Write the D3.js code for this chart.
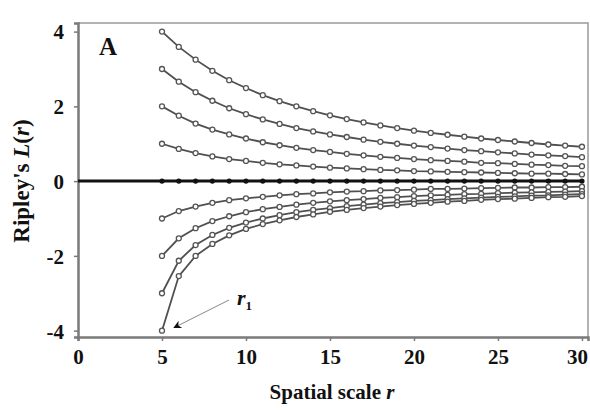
<!DOCTYPE html>
<html>
<head>
<meta charset="utf-8">
<script src="https://cdn.jsdelivr.net/npm/d3@7/dist/d3.min.js"></script>
<style>
  html, body { margin: 0; padding: 0; background: #fff; }
  svg { display: block; font-family: "Liberation Serif", "Times New Roman", serif; }
</style>
</head>
<body>
<svg id="chart" width="590" height="412"></svg>
<script>
// Spatial scale r (x values shared by every curve)
const scales = [5, 6, 7, 8, 9, 10, 11, 12, 13, 14, 15, 16, 17, 18, 19, 20,
                21, 22, 23, 24, 25, 26, 27, 28, 29, 30];

// Ripley's L(r), one array per curve (aggregated -> regular -> complete spatial randomness)
const curveP4 = [4.00, 3.59, 3.25, 2.95, 2.70, 2.49, 2.30, 2.14, 2.00, 1.87, 1.76, 1.66, 1.57,
                 1.49, 1.42, 1.35, 1.29, 1.24, 1.19, 1.14, 1.10, 1.06, 1.02, 0.98, 0.95, 0.92];
const curveP3 = [3.00, 2.66, 2.38, 2.15, 1.95, 1.79, 1.65, 1.53, 1.42, 1.33, 1.25, 1.18, 1.11,
                 1.05, 1.00, 0.95, 0.91, 0.87, 0.83, 0.80, 0.77, 0.74, 0.71, 0.69, 0.67, 0.64];
const curveP2 = [2.00, 1.75, 1.54, 1.38, 1.25, 1.14, 1.04, 0.96, 0.89, 0.83, 0.78, 0.73, 0.69,
                 0.65, 0.62, 0.59, 0.56, 0.54, 0.52, 0.49, 0.48, 0.46, 0.44, 0.43, 0.41, 0.40];
const curveP1 = [1.00, 0.86, 0.75, 0.66, 0.59, 0.54, 0.49, 0.45, 0.42, 0.39, 0.36, 0.34, 0.32,
                 0.30, 0.29, 0.27, 0.26, 0.25, 0.24, 0.23, 0.22, 0.21, 0.20, 0.20, 0.19, 0.18];
const curveM1 = [-1.00, -0.80, -0.68, -0.58, -0.51, -0.46, -0.42, -0.38, -0.35, -0.33, -0.30, -0.28, -0.27,
                 -0.25, -0.24, -0.23, -0.21, -0.21, -0.20, -0.19, -0.18, -0.17, -0.17, -0.16, -0.16, -0.15];
const curveM2 = [-2.00, -1.53, -1.26, -1.07, -0.94, -0.83, -0.75, -0.69, -0.63, -0.58, -0.54, -0.51, -0.48,
                 -0.45, -0.43, -0.40, -0.38, -0.37, -0.35, -0.34, -0.32, -0.31, -0.30, -0.29, -0.28, -0.27];
const curveM3 = [-3.00, -2.13, -1.71, -1.44, -1.25, -1.11, -1.00, -0.91, -0.83, -0.77, -0.72, -0.67, -0.63,
                 -0.59, -0.56, -0.53, -0.51, -0.48, -0.46, -0.44, -0.42, -0.41, -0.39, -0.38, -0.36, -0.35];
const curveM4 = [-4.00, -2.54, -2.00, -1.68, -1.45, -1.28, -1.15, -1.05, -0.96, -0.89, -0.82, -0.77, -0.72,
                 -0.68, -0.64, -0.61, -0.58, -0.55, -0.53, -0.50, -0.48, -0.47, -0.45, -0.43, -0.42, -0.40];
const curveZero = [0, 0, 0, 0, 0, 0, 0, 0, 0, 0, 0, 0, 0,
                   0, 0, 0, 0, 0, 0, 0, 0, 0, 0, 0, 0, 0];

const xTicks = [0, 5, 10, 15, 20, 25, 30];
const yTicks = [-4, -2, 0, 2, 4];

const panelLabel = "A";
const xTitle = "Spatial scale ";
const yTitle = "Ripley's ";

const svg = d3.select("#chart");

// Plot frame: left 78, top 23, right 588, bottom 337
const x = d3.scaleLinear().domain([0, 30.36]).range([78, 588]);
const y = d3.scaleLinear().domain([-4.17, 4.23]).range([337, 23]);

const frameColor = "#7a7a7a";
const lineColor = "#505050";

// Top and right border of the frame
svg.append("path")
  .attr("d", `M${x.range()[0]},${y.range()[1]}H${x.range()[1]}V${y.range()[0]}`)
  .attr("fill", "none")
  .attr("stroke", "#999")
  .attr("stroke-width", 1.5);

// Axes
const xAxis = d3.axisBottom(x).tickValues(xTicks).tickSize(4).tickPadding(8)
  .tickFormat(d3.format("d"));
const yAxis = d3.axisLeft(y).tickValues(yTicks).tickSize(4).tickPadding(10)
  .tickFormat(d => d < 0 ? "-" + Math.abs(d) : String(d));

const gx = svg.append("g").attr("transform", `translate(0,${y.range()[0]})`).call(xAxis);
const gy = svg.append("g").attr("transform", `translate(${x.range()[0]},0)`).call(yAxis);

[gx, gy].forEach(g => {
  g.select(".domain").attr("stroke", frameColor).attr("stroke-width", 2.5);
  g.selectAll(".tick line").attr("stroke", frameColor).attr("stroke-width", 1.5);
  g.selectAll(".tick text")
    .attr("fill", "#111")
    .style("font-family", "'Liberation Serif', serif")
    .style("font-weight", "bold")
    .style("font-size", "21px");
});
gy.selectAll(".tick text").attr("dy", "0.35em");
// keep the last x label inside the page
gx.selectAll(".tick text").filter(d => d === 30).attr("dx", -5);

// Curves
const line = d3.line()
  .x((d, i) => x(scales[i]))
  .y(d => y(d));

const curves = [curveP4, curveP3, curveP2, curveP1, curveM1, curveM2, curveM3, curveM4];

// Reference line at L(r) = 0, drawn across the full axis
svg.append("line")
  .attr("x1", x(0)).attr("x2", x(30))
  .attr("y1", y(0)).attr("y2", y(0))
  .attr("stroke", "#111")
  .attr("stroke-width", 3);
svg.append("g")
  .selectAll("circle")
  .data(curveZero)
  .join("circle")
  .attr("cx", (d, i) => x(scales[i]))
  .attr("cy", d => y(d))
  .attr("r", 2.6)
  .attr("fill", "#111");

const curveGroups = svg.append("g")
  .selectAll("g")
  .data(curves)
  .join("g");

curveGroups.append("path")
  .attr("d", d => line(d))
  .attr("fill", "none")
  .attr("stroke", lineColor)
  .attr("stroke-width", 1.8);

curveGroups.selectAll("circle")
  .data(d => d)
  .join("circle")
  .attr("cx", (d, i) => x(scales[i]))
  .attr("cy", d => y(d))
  .attr("r", 2.5)
  .attr("fill", "#fff")
  .attr("stroke", "#555")
  .attr("stroke-width", 1.3);

// Panel label
svg.append("text")
  .attr("x", 99).attr("y", 55)
  .style("font-weight", "bold")
  .style("font-size", "25px")
  .attr("fill", "#111")
  .text(panelLabel);

// Axis titles
const xt = svg.append("text")
  .attr("x", 332).attr("y", 399)
  .attr("text-anchor", "middle")
  .style("font-weight", "bold")
  .style("font-size", "21px")
  .attr("fill", "#111");
xt.append("tspan").text(xTitle);
xt.append("tspan").style("font-style", "italic").text("r");

const yt = svg.append("text")
  .attr("transform", "translate(29,181) rotate(-90)")
  .attr("text-anchor", "middle")
  .style("font-weight", "bold")
  .style("font-size", "23px")
  .attr("fill", "#111");
yt.append("tspan").text(yTitle);
yt.append("tspan").style("font-style", "italic").text("L");
yt.append("tspan").text("(");
yt.append("tspan").style("font-style", "italic").text("r");
yt.append("tspan").text(")");

// Annotation pointing at the first point of the lowest curve
svg.append("defs").append("marker")
  .attr("id", "arrowhead")
  .attr("viewBox", "0 0 10 10")
  .attr("refX", 9).attr("refY", 5)
  .attr("markerWidth", 10).attr("markerHeight", 8)
  .attr("markerUnits", "userSpaceOnUse")
  .attr("orient", "auto")
  .append("path")
  .attr("d", "M0,0L10,5L0,10L3,5Z")
  .attr("fill", "#111");

const r1x = x(scales[0]);
const r1y = y(curveM4[0]);
svg.append("line")
  .attr("x1", 229).attr("y1", 300)
  .attr("x2", r1x + 12).attr("y2", r1y - 3)
  .attr("stroke", "#888")
  .attr("stroke-width", 1)
  .attr("marker-end", "url(#arrowhead)");

const r1 = svg.append("text")
  .attr("x", 237).attr("y", 305)
  .style("font-weight", "bold")
  .style("font-size", "22px")
  .attr("fill", "#111");
r1.append("tspan").style("font-style", "italic").text("r");
r1.append("tspan").attr("dy", 5).style("font-size", "13px").text("1");
</script>
</body>
</html>
